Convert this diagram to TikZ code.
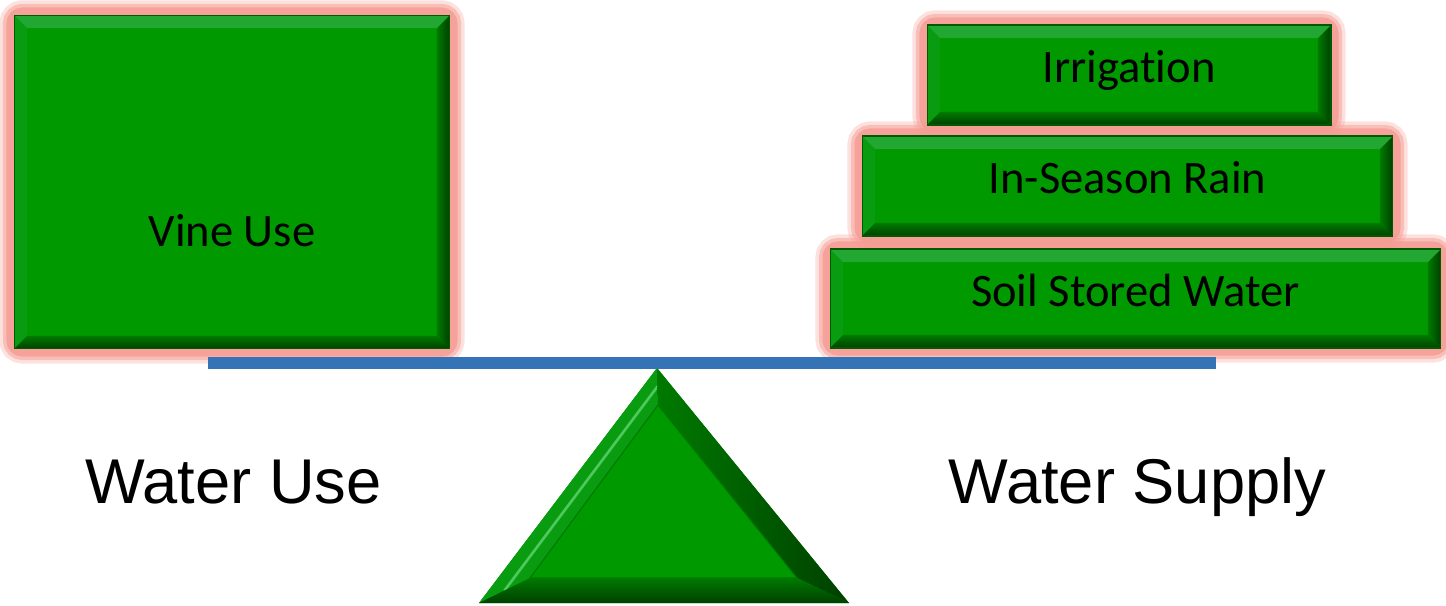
\documentclass[tikz,border=0pt]{standalone}
\usepackage{fontspec}
\setmainfont{Carlito}[Ligatures=NoCommon]
\newfontfamily\labelfont{Liberation Sans}
\usetikzlibrary{backgrounds,calc}

\definecolor{boxgreen}{HTML}{009900}
\definecolor{edgegreen}{HTML}{005A00}
\definecolor{bevlight}{HTML}{22A832}
\definecolor{bevshine}{HTML}{4FC85E}
\definecolor{bevleft}{HTML}{0A9C10}
\definecolor{bevdark}{HTML}{004000}
\definecolor{bevmid}{HTML}{007A00}
\definecolor{glowpink}{HTML}{F59C94}
\definecolor{beamblue}{HTML}{3474B6}

\def\bevw{0.26cm}

\tikzset{
  bevelbox/.style={fill=boxgreen, draw=edgegreen, line width=0.6pt, inner sep=0pt,
    font=\fontsize{26.5}{30}\selectfont, text height=17pt, text depth=8pt,
    path picture={
      \path (path picture bounding box.north west) coordinate (pnw)
            (path picture bounding box.north east) coordinate (pne)
            (path picture bounding box.south west) coordinate (psw)
            (path picture bounding box.south east) coordinate (pse);
      \fill[bevleft] (pnw) -- ([shift={(\bevw,-\bevw)}]pnw) -- ([shift={(\bevw,\bevw)}]psw) -- (psw) -- cycle;
      \shade[left color=bevmid, right color=bevdark] (pne) -- ([shift={(-\bevw,-\bevw)}]pne) -- ([shift={(-\bevw,\bevw)}]pse) -- (pse) -- cycle;
      \shade[top color=bevmid, bottom color=bevdark] (psw) -- ([shift={(\bevw,\bevw)}]psw) -- ([shift={(-\bevw,\bevw)}]pse) -- (pse) -- cycle;
      \shade[top color=bevlight, middle color=bevshine, bottom color=bevlight] (pnw) -- (pne) -- ([shift={(-\bevw,-\bevw)}]pne) -- ([shift={(\bevw,-\bevw)}]pnw) -- cycle;
    }},
  glowline/.style={draw=glowpink, rounded corners=5pt},
  sidelabel/.style={font=\labelfont\fontsize{36}{42}\selectfont, anchor=base},
}

\begin{document}
\begin{tikzpicture}[x=0.02cm, y=-0.02cm]
\useasboundingbox (0,0) rectangle (1446,605);

% left pan
\node[bevelbox, minimum width=8.72cm, minimum height=6.68cm,
      label={[font=\fontsize{26.5}{30}\selectfont, yshift=-0.98cm]center:Vine Use}] (vine) at (232,182) {};

% right pan, stacked
\node[bevelbox, minimum width=8.08cm, minimum height=2cm] (irr) at (1129,75) {Irrigation};
\node[bevelbox, minimum width=10.62cm, minimum height=2cm] (rain) at (1127.5,186) {In-Season Rain};
\node[bevelbox, minimum width=12.22cm, minimum height=1.98cm] (soil) at (1135.5,298.5) {Soil Stored Water};

% glow
\begin{scope}[on background layer]
  \foreach \n in {vine,irr,rain,soil}
    \foreach \w/\o in {16pt/0.3,12pt/0.5,8pt/0.85}
      \draw[glowline, line width=\w, opacity=\o] (\n.north west) rectangle (\n.south east);
\end{scope}

% fulcrum
\coordinate (apex) at (657,368);
\coordinate (baseL) at (479,603);
\coordinate (baseR) at (849,603);
\coordinate (inA) at (658,405);
\coordinate (inL) at (530,578);
\coordinate (inR) at (797,578);
\fill[boxgreen] (apex) -- (baseL) -- (baseR) -- cycle;
\fill[bevleft] (apex) -- (baseL) -- (inL) -- (inA) -- cycle;
\draw[bevshine, line width=1.5pt] ($(apex)!0.5!(inA)$) -- ($(baseL)!0.5!(inL)$);
\shade[left color=bevmid, right color=bevdark] (apex) -- (inA) -- (inR) -- (baseR) -- cycle;
\shade[top color=bevmid, bottom color=bevdark] (baseL) -- (inL) -- (inR) -- (baseR) -- cycle;
\draw[edgegreen!50!boxgreen, line width=0.6pt] (inA) -- (inL) -- (inR) -- cycle;

% beam
\fill[beamblue] (208,357) rectangle (1216,369);

\node[sidelabel] (use) at (233.5,503) {Water Use};
\node[sidelabel] (supply) at (1137.5,503) {Water Supply};
\end{tikzpicture}
\end{document}
